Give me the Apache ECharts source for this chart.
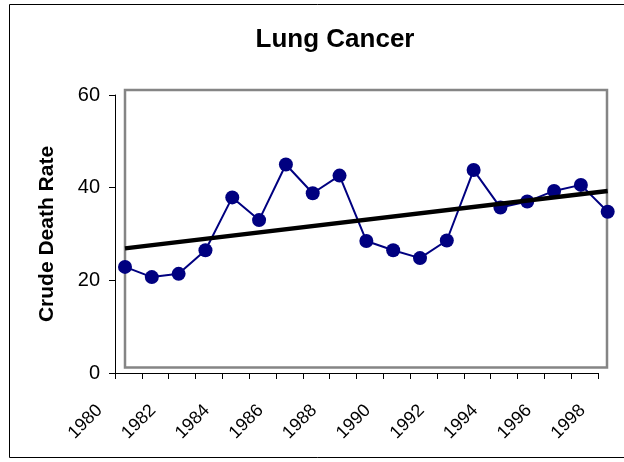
<!DOCTYPE html>
<html><head><meta charset="utf-8">
<script src="https://cdn.jsdelivr.net/npm/echarts@6/dist/echarts.min.js"></script>
<style>html,body{margin:0;padding:0;background:#fff}#c{width:624px;height:462px}</style>
</head><body><div id="c"></div>
<script>
const years = ['1980','1981','1982','1983','1984','1985','1986','1987','1988','1989','1990','1991','1992','1993','1994','1995','1996','1997','1998'];
const deathRate = [22.9,20.7,21.4,26.5,37.9,33.0,45.0,38.8,42.6,28.5,26.5,24.8,28.6,43.8,35.7,37.0,39.3,40.6,34.8];
const trendYears = ['1980','1998'];
const trendValues = [26.9,39.3];
const yMin = 0, yMax = 60, yStep = 20;
const titleText = 'Lung Cancer';
const yName = 'Crude Death Rate';

const FONT = "'Liberation Sans', Arial, Helvetica, sans-serif";
const chart = echarts.init(document.getElementById('c'), null, {renderer:'canvas'});
chart.setOption({
  animation:false,
  backgroundColor:'#ffffff',
  title:{text:titleText,left:335,top:27,padding:0,textAlign:'center',
    textStyle:{fontFamily:FONT,fontSize:26,fontWeight:'bold',color:'#000'}},
  graphic:[{type:'rect',silent:true,z:-10,shape:{x:9.5,y:4.5,width:640,height:453},
    style:{fill:'none',stroke:'#000',lineWidth:1}}],
  grid:[
    {left:115,top:95,width:483,height:278,containLabel:false},
    {left:125,top:95,width:482.7,height:278,containLabel:false},
    {left:125,top:90,width:482,height:277.5,containLabel:false,show:true,borderColor:'#858585',borderWidth:2.5,backgroundColor:'transparent'}
  ],
  xAxis:[
    {type:'category',gridIndex:0,data:years,boundaryGap:false,
      axisLine:{lineStyle:{color:'#000',width:1}},
      axisTick:{show:true,interval:0,length:6,inside:false,lineStyle:{color:'#000'}},
      axisLabel:{interval:1,rotate:45,margin:19,padding:[0,22,0,0],color:'#000',fontFamily:FONT,fontSize:18},
      splitLine:{show:false}},
    {type:'category',gridIndex:1,data:years,boundaryGap:false,show:false},
    {type:'category',gridIndex:2,data:years,boundaryGap:false,show:false}
  ],
  yAxis:[
    {type:'value',gridIndex:0,min:yMin,max:yMax,interval:yStep,
      name:yName,nameLocation:'middle',nameRotate:90,nameGap:57,
      nameTextStyle:{fontFamily:FONT,fontSize:21,fontWeight:'bold',color:'#000'},
      axisLine:{show:true,lineStyle:{color:'#000',width:1}},
      axisTick:{show:true,length:6,lineStyle:{color:'#000'}},
      axisLabel:{margin:15,color:'#000',fontFamily:FONT,fontSize:20},
      splitLine:{show:false}},
    {type:'value',gridIndex:1,min:yMin,max:yMax,show:false,splitLine:{show:false}},
    {type:'value',gridIndex:2,min:yMin,max:yMax,show:false,splitLine:{show:false}}
  ],
  series:[
    {type:'line',name:'Crude Death Rate',xAxisIndex:1,yAxisIndex:1,data:deathRate,
      symbol:'circle',symbolSize:14,showAllSymbol:true,z:3,
      lineStyle:{color:'#000080',width:2},itemStyle:{color:'#000080',borderWidth:0}},
    {type:'line',name:'Trend',xAxisIndex:1,yAxisIndex:1,
      data:trendYears.map((y,i)=>[y,trendValues[i]]),
      symbol:'none',z:4,lineStyle:{color:'#000',width:4.5}}
  ]
});
</script></body></html>
